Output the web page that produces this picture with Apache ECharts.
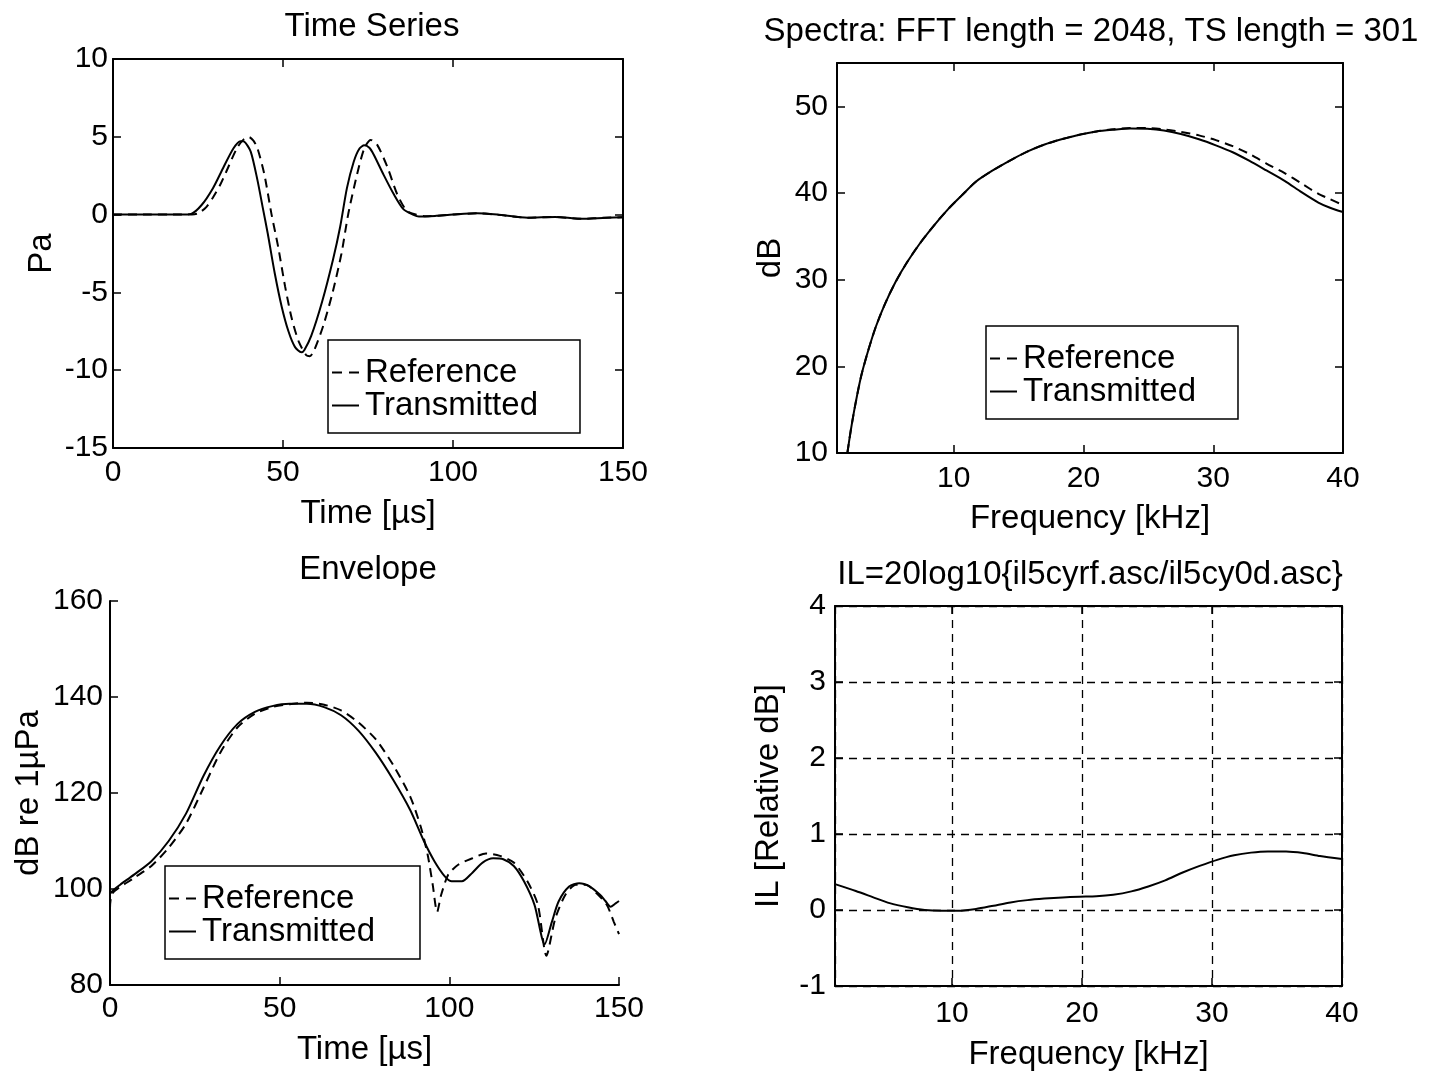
<!DOCTYPE html>
<html>
<head>
<meta charset="utf-8">
<script src="https://cdn.jsdelivr.net/npm/echarts@6/dist/echarts.min.js"></script>
<style>
html,body{margin:0;padding:0;background:#fff;}
#chart{width:1431px;height:1072px;}
</style>
</head>
<body>
<div id="chart"></div>
<script>
// ---------- Data ----------
// Time series (Pa vs µs)
const tsRefT  = [0,10,20,24,25.3,27.5,29.4,31.5,33.4,36.4,38.5,40,41.3,42.5,44.5,46.6,48.6,50.6,52.6,54.7,56.9,57.9,59.2,61.9,64.6,67.2,69.2,71.8,73.9,75.8,77.8,80.8,83.6,86.4,89.2,92,100,107,113,122,130,137.6,145,150];
const tsRefV  = [0,0,0,0.02,0.1,0.5,1.1,1.9,2.8,4.25,4.85,4.98,4.75,4.25,2.6,0.05,-2.1,-4.6,-6.7,-8.2,-9.05,-9.1,-8.7,-7.1,-5.0,-2.5,0.05,2.6,4.25,4.8,4.45,3.0,1.3,0.25,0.0,-0.1,0.0,0.08,0.0,-0.2,-0.15,-0.27,-0.2,-0.17];
const tsTrT   = [0,10,20,23,26,29.4,32.4,35.4,37.5,38.5,40.5,42.5,44,45.5,47.6,49.6,51.6,53.5,55.4,56.3,58.3,61.5,64.7,66.8,68.8,70.8,72.5,73.9,75.4,76.7,79.6,82.6,85.4,88.2,90,95,100,107,113,122,130,137.6,145,150];
const tsTrV   = [0,0,0,0.05,0.6,1.7,3.0,4.25,4.72,4.7,4.05,2.2,0.5,-1.2,-3.8,-5.9,-7.5,-8.5,-8.85,-8.7,-7.8,-5.6,-2.9,-0.8,1.7,3.4,4.25,4.45,4.3,3.85,2.55,1.3,0.35,0.0,-0.13,-0.08,0.0,0.08,0.0,-0.2,-0.15,-0.27,-0.2,-0.17];

// Spectra (dB vs kHz)
const specFreq  = [1.8,2.05,2.4,2.85,3.4,4.0,4.7,5.5,6.4,7.4,8.5,9.6,10.6,11.7,13,14.4,15.7,17,18.3,19.6,21,22.3,23.6,24.9,26.2,27.5,28.9,30.2,31.5,32.8,34.1,35.5,36.8,38.1,39,40];
const specRef   = [10,12.5,15.5,18.8,21.8,24.6,27.2,29.7,32.0,34.2,36.3,38.2,39.7,41.3,42.6,43.8,44.8,45.6,46.2,46.7,47.1,47.35,47.5,47.5,47.35,47.05,46.65,46.1,45.4,44.5,43.4,42.3,41.1,39.9,39.3,38.6];
const specTrans = [10,12.5,15.5,18.8,21.8,24.6,27.2,29.7,32.0,34.2,36.3,38.2,39.7,41.3,42.6,43.8,44.8,45.6,46.2,46.7,47.1,47.3,47.45,47.4,47.2,46.8,46.2,45.5,44.7,43.7,42.6,41.4,40.1,38.9,38.3,37.8];

// Envelope (dB re 1µPa vs µs)
const envRefT = [0,0.7,7.1,12.2,17.3,22.4,27.5,32.5,37.6,42.7,47.8,52.9,58,63.1,68.1,73.2,78.3,83.4,88.5,91.6,93.6,95.1,96.4,97.6,99.7,102.7,106.8,110.8,114.9,119,123,126.1,128.6,131.2,134.2,137.3,140.3,143.4,146.4,148.5,150];
const envRefV = [96,99.1,102.3,104.8,108.6,113.6,121,128.4,133.7,136.5,137.9,138.5,138.8,138.4,137.2,134.7,131.2,125.9,119.2,112.9,107.2,100.9,95.2,98.8,103,105.1,106.4,107.4,106.9,105.5,101.6,96.7,86.1,93.8,98.8,100.9,100.9,99.1,96.7,93.1,90.6];
const envTrT  = [0,1,3,7.1,12.2,17.3,22.4,27.5,32.5,37.6,42.7,47.8,52.9,58,63.1,68.1,73.2,78.3,83.4,88.5,92.5,95.6,98.6,100.7,103.7,106.8,109.8,112.9,115.9,119,122,125.1,128.1,130.2,132.2,135.3,138.3,141.4,144.4,146,147.5,149,150];
const envTrV  = [99,99.8,100.9,103,105.8,110,115.7,123.5,129.8,134.4,136.9,138.1,138.6,138.6,137.9,136.2,133,128.4,122.8,116.4,110,105.8,102.7,101.6,101.6,103.4,105.5,106.4,106.2,104.8,101.6,96.7,88.5,93.1,97.4,100.5,101.2,100.5,98.8,97.5,96.3,97,97.5];

// Insertion loss (relative dB vs kHz)
const ilFreq = [1.0,2.6,3.9,5.2,6.6,7.9,9.2,10.5,11.85,13.2,14.5,15.8,17.1,18.5,19.8,21.1,22.4,23.8,25.1,26.4,27.7,29.05,30.4,31.7,33.0,34.3,35.7,37.0,38.3,40];
const ilVal  = [0.34,0.25,0.17,0.09,0.035,0.0,-0.01,-0.01,0.013,0.057,0.1,0.13,0.15,0.166,0.175,0.18,0.2,0.245,0.31,0.39,0.49,0.58,0.66,0.72,0.755,0.77,0.77,0.75,0.71,0.67];

// Axis ranges / tick labels
const tsXTicks  = [0,50,100,150];
const tsYTicks  = [-15,-10,-5,0,5,10];
const specYTicks = [10,20,30,40,50];
const envYTicks = [80,100,120,140,160];
const ilYTicks  = [-1,0,1,2,3,4];
const freqTicks = [10,20,30,40];

const titles = ['Time Series','Spectra: FFT length = 2048, TS length = 301','Envelope','IL=20log10{il5cyrf.asc/il5cy0d.asc}'];
const legendNames = ['Reference','Transmitted'];

// ---------- Build ----------
const FONT = 'Liberation Sans, Arial, Helvetica, sans-serif';
const zip = (a,b) => a.map((v,i)=>[v,b[i]]);
const BLACK = '#000';
const TICK_FS = 30, NAME_FS = 33, TITLE_FS = 33, LEG_FS = 33;
const DASH = [9,6];

const grids = [
  {left:113, top:59,  width:510, height:389},
  {left:837, top:63,  width:506, height:390},
  {left:110, top:601, width:509, height:384},
  {left:835, top:606, width:507, height:380}
];

function lab(margin, extra){ return Object.assign({color:BLACK, fontSize:TICK_FS, fontFamily:FONT, margin:margin}, extra||{}); }
const tickIn = {show:true, inside:true, length:8, lineStyle:{color:BLACK, width:1.5}};
const lineAx = {show:true, onZero:false, lineStyle:{color:BLACK, width:2}};
const nameStyle = {color:BLACK, fontSize:NAME_FS, fontFamily:FONT};

function mainX(grid, min, max, opts){
  return Object.assign({type:'value', gridIndex:grid, position:'bottom', min:min, max:max,
    axisLine:lineAx, axisTick:tickIn, splitLine:{show:false},
    nameLocation:'middle', nameTextStyle:nameStyle}, opts);
}
function mainY(grid, min, max, opts){
  return Object.assign({type:'value', gridIndex:grid, position:'left', min:min, max:max,
    axisLine:lineAx, axisTick:tickIn, splitLine:{show:false},
    nameLocation:'middle', nameTextStyle:nameStyle}, opts);
}
function mirror(base, pos){
  return Object.assign({}, base, {position:pos, name:'', axisLabel:{show:false}, splitLine:{show:false}});
}

const hideFreqMin = v => (freqTicks.indexOf(v) >= 0 ? String(v) : '');

const xTL = mainX(0, tsXTicks[0], tsXTicks[tsXTicks.length-1], {interval:50, name:'Time [µs]', nameGap:49, axisLabel:lab(10)});
const xTR = mainX(1, 1, 40, {splitNumber:4, name:'Frequency [kHz]', nameGap:49, axisLabel:lab(11,{formatter:hideFreqMin})});
const xBL = mainX(2, tsXTicks[0], tsXTicks[tsXTicks.length-1], {interval:50, name:'Time [µs]', nameGap:48, axisLabel:lab(9)});
const xBR = mainX(3, 1, 40, {splitNumber:4, name:'Frequency [kHz]', nameGap:52, axisLabel:lab(13,{formatter:hideFreqMin}),
  splitLine:{show:true, lineStyle:{color:BLACK, width:1.3, type:[8,6]}}});

const yTL = mainY(0, tsYTicks[0], tsYTicks[tsYTicks.length-1], {interval:5, name:'Pa', nameGap:55, axisLabel:lab(5)});
const yTR = mainY(1, specYTicks[0], 55, {interval:10, name:'dB', nameGap:50, axisLabel:lab(9,{showMaxLabel:false, formatter: v => (specYTicks.indexOf(v)>=0? String(v):'')})});
const yBL = mainY(2, envYTicks[0], envYTicks[envYTicks.length-1], {interval:20, name:'dB re 1µPa', nameGap:65, axisLabel:lab(7)});
const yBR = mainY(3, ilYTicks[0], ilYTicks[ilYTicks.length-1], {interval:1, name:'IL [Relative dB]', nameGap:50, axisLabel:lab(9),
  splitLine:{show:true, lineStyle:{color:BLACK, width:1.3, type:[8,6]}}});

const xAxes = [xTL, xTR, xBL, xBR, mirror(xTL,'top'), mirror(xTR,'top'), mirror(xBR,'top')];
const yAxes = [yTL, yTR, yBL, yBR, mirror(yTL,'right'), mirror(yTR,'right'), mirror(yBR,'right')];

function ser(name, data, idx, dashed, z){
  return {type:'line', name:name, data:data, xAxisIndex:idx, yAxisIndex:idx, symbol:'none', showSymbol:false,
    smooth:0.25, clip:true, z:z||3,
    lineStyle:{color:BLACK, width:2, type: dashed ? DASH : 'solid'}, itemStyle:{color:BLACK}};
}

const series = [
  ser(legendNames[0], zip(tsRefT, tsRefV), 0, true),
  ser(legendNames[1], zip(tsTrT, tsTrV), 0, false),
  ser(legendNames[0], zip(specFreq, specRef), 1, true),
  ser(legendNames[1], zip(specFreq, specTrans), 1, false),
  ser(legendNames[0], zip(envRefT, envRefV), 2, true),
  ser(legendNames[1], zip(envTrT, envTrV), 2, false),
  ser('IL', zip(ilFreq, ilVal), 3, false, 4)
];

const ICON_DASH  = 'path://M0,0h10v2h-10zM17,0h10v2h-10z';
const ICON_SOLID = 'path://M0,0h27v2h-27z';

function legendAt(left, top, padRight){
  return {show:true, orient:'vertical', left:left, top:top, selectedMode:false,
    data:[{name:legendNames[0], icon:ICON_DASH}, {name:legendNames[1], icon:ICON_SOLID}],
    itemWidth:27, itemHeight:2, itemGap:0, padding:[16,padRight,11,4],
    itemStyle:{color:BLACK, borderWidth:0},
    borderColor:BLACK, borderWidth:1.5, backgroundColor:'#fff', borderRadius:0,
    textStyle:{color:BLACK, fontSize:LEG_FS, fontFamily:FONT, lineHeight:31, padding:[0,0,0,1]}};
}

function titleAt(text, cx, top){
  return {text:text, left:cx, top:top, textAlign:'center', padding:0,
    textStyle:{color:BLACK, fontSize:TITLE_FS, fontWeight:'normal', fontFamily:FONT}};
}

const option = {
  animation:false,
  backgroundColor:'#fff',
  textStyle:{fontFamily:FONT},
  title:[
    titleAt(titles[0], 372, 10),
    titleAt(titles[1], 1091, 15),
    titleAt(titles[2], 368, 553),
    titleAt(titles[3], 1090, 558)
  ],
  legend:[legendAt(328,340,42), legendAt(986,326,42), legendAt(165,866,45)],
  grid: grids.map(g=>Object.assign({show:false, containLabel:false}, g)),
  xAxis:xAxes,
  yAxis:yAxes,
  series:series
};

const chart = echarts.init(document.getElementById('chart'), null, {renderer:'canvas'});
chart.setOption(option);
</script>
</body>
</html>
